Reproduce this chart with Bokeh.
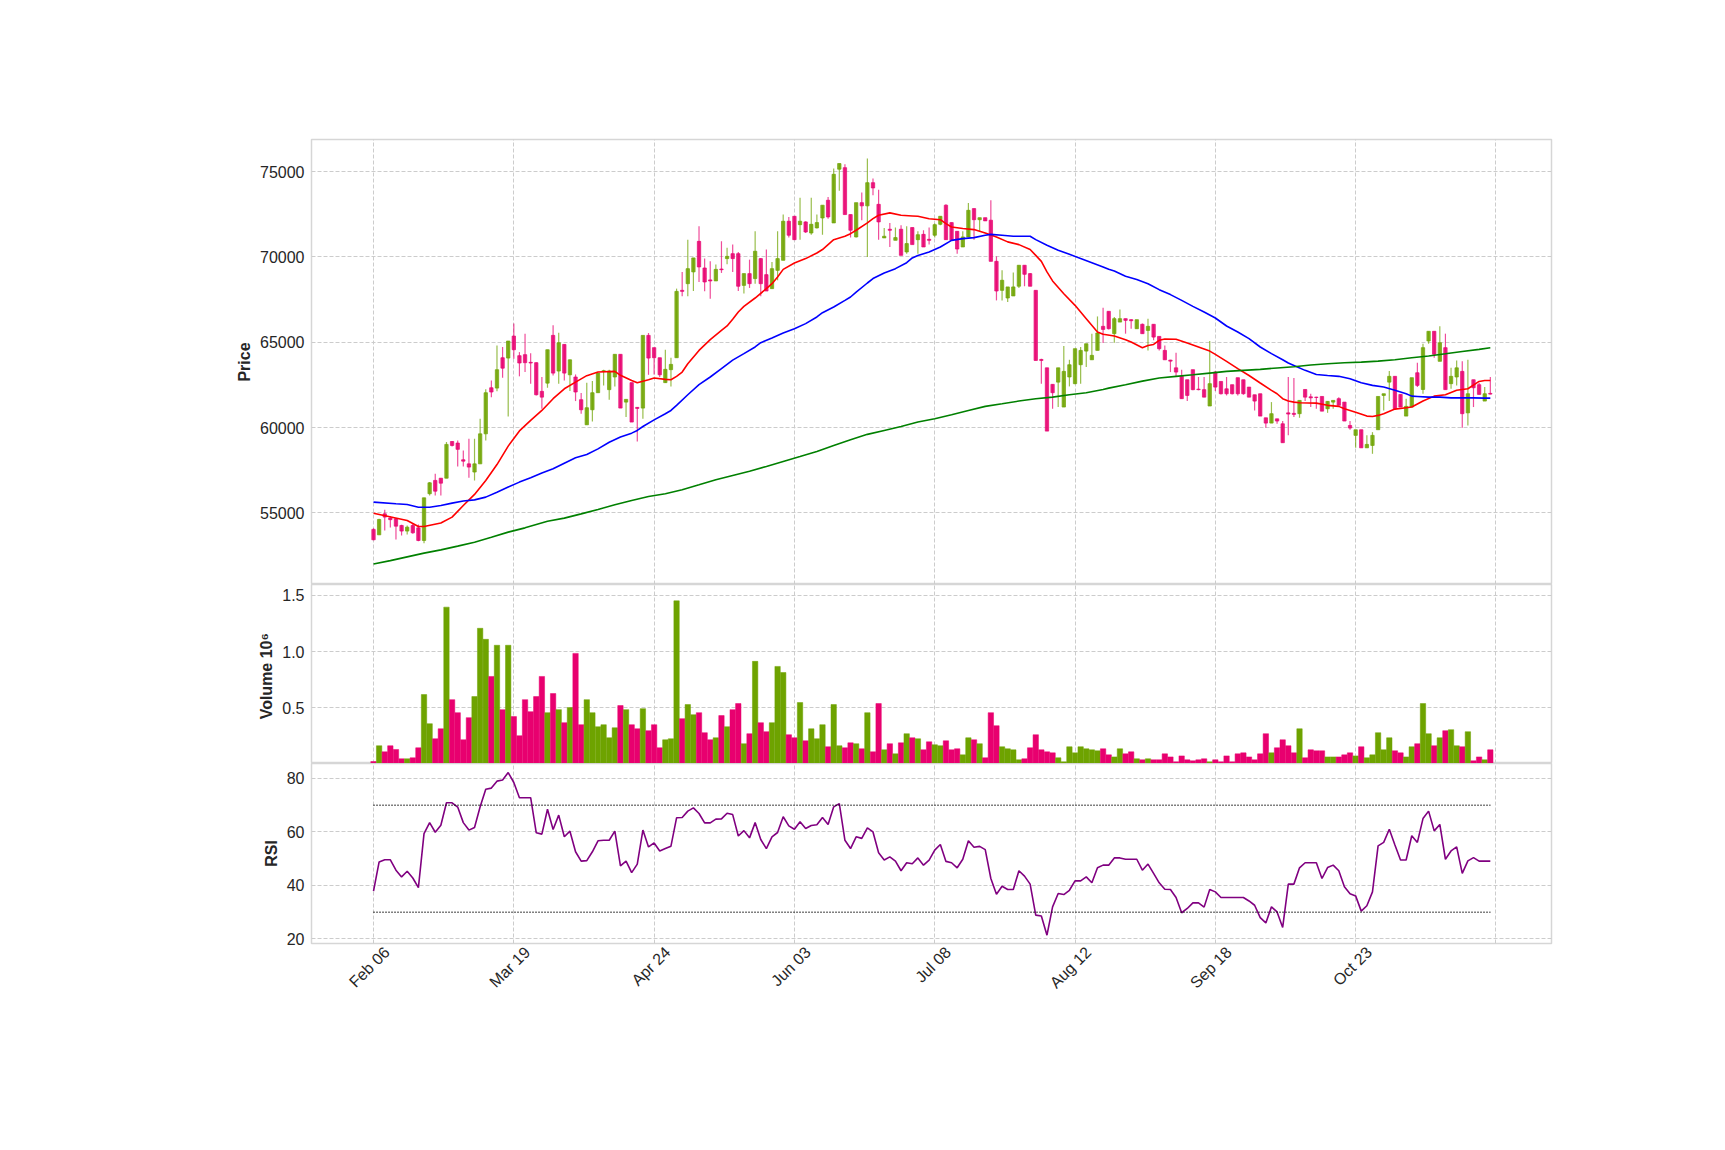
import math
from bokeh.plotting import figure
from bokeh.layouts import column
from bokeh.models import Range1d, FixedTicker, ColumnDataSource, LinearAxis
from bokeh.embed import file_html
from bokeh.resources import INLINE

# ---------------- data ----------------
opens = [54030,53710,54940,54700,54650,54260,53930,54260,54120,53380,
         56120,56900,57030,57030,59180,59090,58110,57870,57390,57870,
         59630,62330,62310,64090,64070,65360,64210,64270,63820,63800,
         62120,62600,65400,63310,64870,63090,62960,61630,60160,61040,
         62040,63290,62220,62960,64290,61490,62630,61180,61140,65400,
         64680,64090,62630,63390,64090,68040,68430,69120,70910,69350,
         68650,68590,69290,69900,70190,70190,68330,69020,68730,69900,
         68960,68140,69210,69800,72090,72380,71890,72050,71400,71700,
         72280,73320,71990,75140,75230,72480,71170,73180,72990,74350,
         73080,71110,71620,70970,71620,70290,71720,71010,71320,71030,
         71270,71910,73030,72010,71500,70580,71170,72830,72180,72300,
         72150,69740,68040,67590,67710,68280,69510,69020,68040,63990,
         63500,62530,62660,61200,62960,62570,63680,64480,63970,64520,
         65930,66810,65500,66180,66380,66320,65790,66050,65690,66050,
         65340,64520,63950,63500,63000,62800,63390,62250,62220,61260,
         63250,62700,62270,62510,62920,62800,62370,61920,61980,60570,
         60260,60510,60220,60860,60830,60810,62230,61800,61780,61820,
         61100,61490,61690,61490,60120,59540,59870,58810,58950,59870,
         61880,62660,63000,61940,60670,61200,63210,62230,65070,65640,
         63880,64680,62570,62960,63290,60860,62800,62510,61550,62000]
highs = [54100,54650,55180,54820,54700,54300,54260,54400,54320,55880,
         56800,57290,57040,59150,59200,59240,58660,59340,59340,60510,
         62240,62760,64810,64720,65070,66090,64420,65500,64360,63820,
         62960,64560,65990,65560,64880,63980,63110,62020,62630,62720,
         63190,63390,63390,64290,64290,61650,62630,61200,65400,65540,
         64680,64090,64560,64090,68140,69120,71010,69940,71790,69900,
         69740,69550,70910,70540,70720,70290,69020,69840,71500,69940,
         70430,69700,71500,72480,72340,72380,73470,72090,73470,72480,
         73030,73510,75180,75470,75430,72480,73180,73770,75760,74590,
         73940,71700,71990,71720,71850,71790,71720,71500,71560,71720,
         71950,72380,73080,72010,71500,71500,73160,72830,72300,72300,
         73320,70030,69210,68240,69080,69510,69510,69060,68040,64030,
         63500,62530,63500,64780,63970,64620,64720,64910,65500,66510,
         67020,66810,66480,66910,66380,66340,66320,66090,66380,66050,
         65340,64810,63970,64380,63390,62800,63390,62960,62960,65070,
         63310,62700,62960,62510,62920,62800,62370,61920,61980,60570,
         61490,60510,60380,62960,62900,61590,62230,61980,61800,61820,
         61550,61590,61780,61490,60380,59870,59870,59540,59730,61820,
         61980,63310,63000,61940,61690,62920,63800,64910,65640,65640,
         65930,65500,63500,63930,63890,63970,62800,62610,62370,62960]
lows = [53400,53700,53970,54140,53440,53670,53730,53770,53340,53220,
        56020,56020,56020,57030,58890,57720,57720,57050,56900,57870,
        59240,61780,62120,62920,60650,64030,63000,63250,62570,61880,
        61100,62330,63050,62570,62760,62140,61550,60800,60160,60360,
        62040,62470,61630,62410,61140,60610,60320,59180,60510,63090,
        63110,62960,62610,62410,64090,67690,67690,68000,68530,67980,
        67550,68590,69060,69570,69120,68000,67850,68180,68430,67690,
        68000,68140,68630,69800,71130,71010,71010,71400,71300,71660,
        71300,72240,71990,73870,72480,71130,71130,72150,70000,73610,
        71010,71100,70580,70970,70090,70190,70720,70190,70580,70720,
        71130,71850,71010,70970,70190,70580,71170,71010,71460,72110,
        69740,67450,67450,67360,67710,68180,68280,68280,63930,62570,
        59790,61100,61200,61200,62410,62530,62570,63540,63970,64520,
        64950,65750,64970,66180,65500,65790,65790,65500,64520,65110,
        64520,63970,63250,62960,61690,61550,62180,62180,61780,61260,
        62140,61940,61880,61940,61880,61920,61780,61000,60670,59990,
        60260,60220,59110,59540,60610,60570,61550,61200,61100,60960,
        60860,61100,61300,60380,59870,58810,58810,58810,58460,59870,
        61000,61550,61100,61200,60670,61200,62370,61980,64910,64090,
        63880,62220,62270,62470,59990,60120,61200,61940,61550,61940]
closes = [53420,54610,54750,54600,54220,53930,54160,53830,53380,55880,
          56760,56270,56740,59010,58950,58720,58030,57680,57870,59630,
          62040,62080,63390,63480,65070,64560,63780,63800,63780,61920,
          61780,64560,63190,64970,63190,63970,62080,61040,61160,62040,
          63190,63330,63310,64290,61140,61650,60320,61120,65400,64070,
          64090,63090,63410,63700,67980,67980,69310,69940,69410,68530,
          68590,69270,69250,70030,69900,68280,69020,68430,70330,68430,
          68000,69310,69900,72090,71270,71010,72090,71460,71910,72010,
          73030,72340,74840,75470,72480,71560,73180,72990,74350,74040,
          72050,71210,71560,71130,70090,70780,70720,71300,70580,70970,
          71890,72380,71010,70970,70460,71170,72730,72180,72300,72110,
          69740,68000,68630,68240,68240,69510,68980,68280,63930,63930,
          59790,62040,63500,63290,63680,64620,64520,64910,64230,65540,
          65750,65790,66380,66380,66280,66260,66320,65500,65930,65300,
          64620,63970,63890,63250,61690,61880,62220,62220,61780,62570,
          62370,61980,61980,61980,61980,61980,61780,61550,60670,60260,
          60810,60380,59110,60790,60770,61590,61780,61740,61760,60960,
          61530,61590,61300,60380,59970,59870,58810,59010,59540,61820,
          61980,63000,61100,61200,61240,62920,62470,64680,65640,64290,
          64970,62220,63000,63500,60810,61980,62330,61940,61980,61960]
volumes = [24000,164000,110000,164000,131000,48000,48000,57000,146000,619000,
           360000,226000,315000,1396000,574000,458000,217000,414000,601000,1208000,
           1110000,780000,1057000,485000,1057000,423000,253000,574000,467000,601000,
           780000,458000,628000,485000,369000,503000,985000,351000,574000,458000,
           333000,351000,235000,324000,521000,485000,351000,315000,494000,298000,
           351000,146000,217000,226000,1452000,405000,530000,440000,458000,280000,
           217000,235000,432000,333000,485000,539000,182000,271000,914000,369000,
           289000,369000,869000,815000,262000,235000,548000,208000,315000,226000,
           351000,155000,530000,164000,146000,190000,182000,137000,458000,110000,
           539000,128000,182000,92000,190000,271000,235000,226000,128000,199000,
           173000,164000,208000,128000,137000,83000,235000,217000,182000,57000,
           458000,342000,155000,137000,128000,39000,48000,146000,262000,128000,
           110000,101000,57000,21000,155000,101000,155000,137000,128000,119000,
           137000,83000,65000,137000,92000,110000,48000,39000,48000,39000,
           39000,92000,65000,21000,74000,39000,30000,39000,48000,21000,
           39000,21000,74000,21000,92000,101000,65000,39000,92000,271000,
           101000,146000,217000,164000,101000,315000,57000,128000,119000,119000,
           65000,65000,65000,83000,101000,74000,155000,57000,83000,280000,
           128000,235000,119000,101000,65000,155000,182000,539000,271000,164000,
           235000,298000,307000,164000,155000,289000,30000,65000,39000,128000]
rsi = [37.9,48.8,49.6,49.6,45.7,43.2,45.3,42.8,39.2,59.4,
       63.5,59.9,62.5,70.9,70.9,69.3,63.5,60.7,61.7,69.4,
       76.0,76.4,79.0,79.4,82.2,78.5,72.8,72.8,72.8,59.7,
       59.2,68.5,60.9,66.3,58.2,60.3,52.6,49.1,49.3,52.6,
       56.7,56.9,56.9,60.3,47.3,49.1,44.8,48.0,60.7,54.4,
       55.9,52.9,53.8,54.7,65.3,65.4,67.8,69.0,66.9,63.4,
       63.4,64.8,64.9,67.0,66.5,58.5,60.5,57.8,63.5,57.2,
       53.8,58.2,59.8,65.7,62.3,61.0,63.8,61.3,62.4,62.7,
       65.4,62.8,69.4,70.6,56.9,53.8,58.2,57.6,61.5,60.0,
       52.2,49.5,50.7,49.1,45.5,48.5,48.1,50.3,47.6,49.5,
       53.2,55.3,49.0,48.5,46.6,49.8,56.7,54.3,54.6,53.4,
       42.6,36.7,39.7,38.5,38.5,45.5,43.5,40.5,28.9,28.6,
       21.4,32.0,37.0,36.6,38.2,41.7,41.7,43.2,41.0,46.6,
       47.6,47.6,50.3,50.3,49.8,49.8,49.8,45.7,48.0,44.5,
       41.0,38.6,38.5,35.5,29.8,31.4,33.5,33.5,31.9,38.5,
       37.6,35.5,35.5,35.5,35.5,35.5,34.2,32.6,28.0,26.0,
       32.0,30.1,24.3,40.5,40.5,46.6,48.5,48.5,48.5,42.6,
       46.7,47.6,45.5,39.5,36.9,36.1,30.4,32.4,37.6,54.8,
       56.1,61.0,55.1,49.5,49.5,58.6,56.1,65.0,67.8,60.4,
       62.8,49.8,52.9,54.4,44.5,49.2,50.4,49.1,49.1,49.1]

ma_short_idx = [0,6,8,9,12,14,16,18,20,22,24,26,28,30,32,34,36,38,40,43,44,46,47,49,50,52,53,54,55,56,
                58,60,62,63,64,65,66,68,70,71,72,73,75,77,79,80,82,84,85,86,88,89,90,92,94,96,97,99,101,102,
                103,105,107,109,111,113,115,117,118,119,120,121,123,125,127,129,130,132,134,135,137,138,139,140,141,143,145,147,149,150,
                152,154,156,158,160,161,162,163,164,165,168,170,172,173,175,177,178,179,180,182,184,185,187,189,191,193,195,197,198,199]
ma_short = [54980,54550,54200,54200,54400,54750,55430,56080,56900,57830,58910,59800,60420,61000,61690,62270,62660,63040,63250,63290,63060,62760,62620,62800,62900,62820,62800,63000,63250,63740,
            64520,65150,65690,65950,66350,66770,67100,67590,68140,68430,68820,69270,69640,69900,70230,70430,71010,71210,71360,71560,71990,72240,72440,72580,72440,72400,72380,72240,72180,71950,
            71750,71660,71600,71400,71170,70880,70720,70430,70090,69740,69120,68590,67840,67160,66380,65600,65470,65360,65150,65010,64680,64810,64870,65110,65190,65170,64950,64720,64480,64290,
            63880,63450,63050,62610,62180,61980,61690,61550,61490,61450,61430,61300,61240,61100,60900,60670,60650,60710,60810,61080,61160,61200,61550,61840,61920,62180,62270,62700,62760,62760]
ma_mid_idx = [0,4,6,8,10,12,14,16,18,20,22,24,26,28,30,32,34,36,38,40,42,44,46,47,48,50,52,53,54,56,
              58,60,62,64,66,68,69,71,73,75,77,79,80,82,84,85,86,88,89,91,93,95,96,97,99,101,103,105,107,109,
              110,112,114,117,118,120,122,124,126,128,130,131,132,134,136,138,140,142,144,146,148,150,152,154,156,158,160,162,163,164,
              166,168,170,172,174,176,178,180,182,184,185,186,188,190,192,194,196,198,199]
ma_mid = [55630,55530,55490,55330,55330,55430,55570,55690,55760,55920,56210,56510,56800,57050,57330,57580,57910,58230,58420,58750,59140,59440,59670,59830,60060,60450,60810,61000,61300,61920,
          62510,62960,63450,63950,64330,64720,64970,65250,65540,65790,66090,66480,66730,67060,67450,67650,67940,68470,68730,69060,69310,69660,69940,70080,70290,70580,70970,71070,71130,71270,
          71320,71270,71210,71210,71010,70680,70390,70150,69900,69660,69410,69270,69170,68860,68670,68430,68080,67790,67450,67100,66770,66420,65950,65600,65210,64720,64330,63970,63780,63640,
          63350,63110,63050,63000,62860,62620,62470,62370,62180,61980,61840,61820,61780,61780,61740,61740,61740,61720,61720]
ma_long_idx = [0,3,6,9,12,15,18,21,24,27,31,34,37,40,43,46,49,52,55,58,61,64,67,70,73,76,79,82,85,88,
               91,94,97,100,103,106,109,112,115,118,121,124,127,130,131,134,137,140,143,146,149,152,155,158,161,164,167,170,173,176,
               179,182,185,188,191,194,197,199]
ma_long = [52000,52200,52420,52640,52830,53050,53280,53570,53870,54120,54510,54690,54940,55200,55470,55720,55960,56120,56350,56640,56940,57190,57440,57720,58010,58300,58600,58950,59280,59600,
           59830,60060,60320,60510,60750,61000,61240,61390,61550,61690,61780,61920,62040,62230,62310,62510,62720,62900,63000,63090,63190,63290,63350,63410,63490,63560,63660,63740,63800,63830,
           63890,63970,64090,64190,64320,64460,64580,64680]

date_labels = ["Feb 06", "Mar 19", "Apr 24", "Jun 03", "Jul 08", "Aug 12", "Sep 18", "Oct 23", ""]
price_ticks = [55000, 60000, 65000, 70000, 75000]
volume_ticks = [500000, 1000000, 1500000]
volume_tick_labels = ["0.5", "1.0", "1.5"]
rsi_ticks = [20, 40, 60, 80]
rsi_upper, rsi_lower = 70, 30

# ---------------- derived ----------------
n = len(closes)
idx = list(range(n))
tick_step = 25
tick_idx = list(range(0, n + 1, tick_step))
UP = "#6ea300"
DOWN = "#e8006f"
colors = [UP if c >= o else DOWN for o, c in zip(opens, closes)]
src = ColumnDataSource(dict(
    x=idx, o=opens, h=highs, l=lows, c=closes, v=volumes, r=rsi,
    top=[max(o, c) for o, c in zip(opens, closes)],
    bot=[min(o, c) for o, c in zip(opens, closes)],
    col=colors,
))

FONT = "Liberation Sans"
GRID = "#cccccc"
xr = Range1d(-11.05, 209.9)


def make_fig(frame_h, top_border, bottom_border, yr):
    p = figure(frame_width=1240, frame_height=frame_h, x_range=xr, y_range=yr,
               output_backend="svg", toolbar_location=None, x_axis_location=None,
               min_border_left=311, min_border_right=174,
               min_border_top=top_border, min_border_bottom=bottom_border,
               background_fill_color="white", border_fill_color="white")
    p.outline_line_color = "#d6d6d6"
    p.outline_line_width = 1.5
    p.xgrid.ticker = FixedTicker(ticks=tick_idx)
    for g in (p.xgrid, p.ygrid):
        g.grid_line_color = GRID
        g.grid_line_dash = "4 2"
        g.grid_line_width = 1
    ax = p.yaxis[0]
    ax.axis_line_color = None
    ax.major_tick_line_color = None
    ax.minor_tick_line_color = None
    ax.major_tick_out = 0
    ax.major_label_standoff = 7
    ax.major_label_text_font = FONT
    ax.major_label_text_font_size = "16px"
    ax.major_label_text_color = "#262626"
    ax.axis_label_text_font = FONT
    ax.axis_label_text_font_size = "16px"
    ax.axis_label_text_font_style = "bold"
    ax.axis_label_text_color = "#262626"
    ax.axis_label_standoff = 4
    return p


# price panel
pp = make_fig(445, 139, 0, Range1d(50800, 76880))
pp.yaxis.ticker = FixedTicker(ticks=price_ticks)
pp.yaxis.major_label_overrides = {t: str(t) for t in price_ticks}
pp.yaxis.axis_label = "Price"
pp.segment(x0="x", y0="l", x1="x", y1="h", color="col", line_width=1.2, line_alpha=0.7, source=src)
pp.vbar(x="x", top="top", bottom="bot", width=0.6, fill_color="col", line_color="col",
        fill_alpha=0.85, line_alpha=0.85, line_width=0.8, source=src)
pp.line(ma_short_idx, ma_short, line_color="#ff0000", line_width=1.6)
pp.line(ma_mid_idx, ma_mid, line_color="#0000ff", line_width=1.6)
pp.line(ma_long_idx, ma_long, line_color="#008000", line_width=1.6)

# volume panel
vmin = min(volumes)
vmax = max(volumes)
pv = make_fig(179, 0, 0, Range1d(0.3 * vmin, 1.1 * vmax))
pv.yaxis.ticker = FixedTicker(ticks=volume_ticks)
pv.yaxis.major_label_overrides = dict(zip(volume_ticks, volume_tick_labels))
pv.yaxis.axis_label = "Volume  10\u2076"
pv.vbar(x="x", top="v", bottom=0, width=0.96, fill_color="col", line_color="col", line_width=0.5, source=src)

# RSI panel
pr = make_fig(180, 0, 207, Range1d(18.3, 85.6))
pr.yaxis.ticker = FixedTicker(ticks=rsi_ticks)
pr.yaxis.axis_label = "RSI"
pr.line(x="x", y="r", line_color="#800080", line_width=1.6, source=src)
pr.line([idx[0], idx[-1]], [rsi_upper, rsi_upper], line_color="black", line_dash="1 2", line_width=1.6)
pr.line([idx[0], idx[-1]], [rsi_lower, rsi_lower], line_color="black", line_dash="1 2", line_width=1.6)

# date axis (labels nudged so the rotated text box is centred on the tick)
label_shift = 2.4
xa = LinearAxis(ticker=FixedTicker(ticks=[t + label_shift for t in tick_idx]),
                major_label_overrides={t + label_shift: lab for t, lab in zip(tick_idx, date_labels)})
xa.axis_line_color = None
xa.major_tick_line_color = None
xa.minor_tick_line_color = None
xa.major_tick_out = 0
xa.major_label_standoff = 6
xa.major_label_orientation = math.pi / 4
xa.major_label_text_font = FONT
xa.major_label_text_font_size = "16px"
xa.major_label_text_color = "#262626"
pr.add_layout(xa, "below")

layout = column(pp, pv, pr, spacing=0)
open("out.html", "w").write(file_html(layout, INLINE))
